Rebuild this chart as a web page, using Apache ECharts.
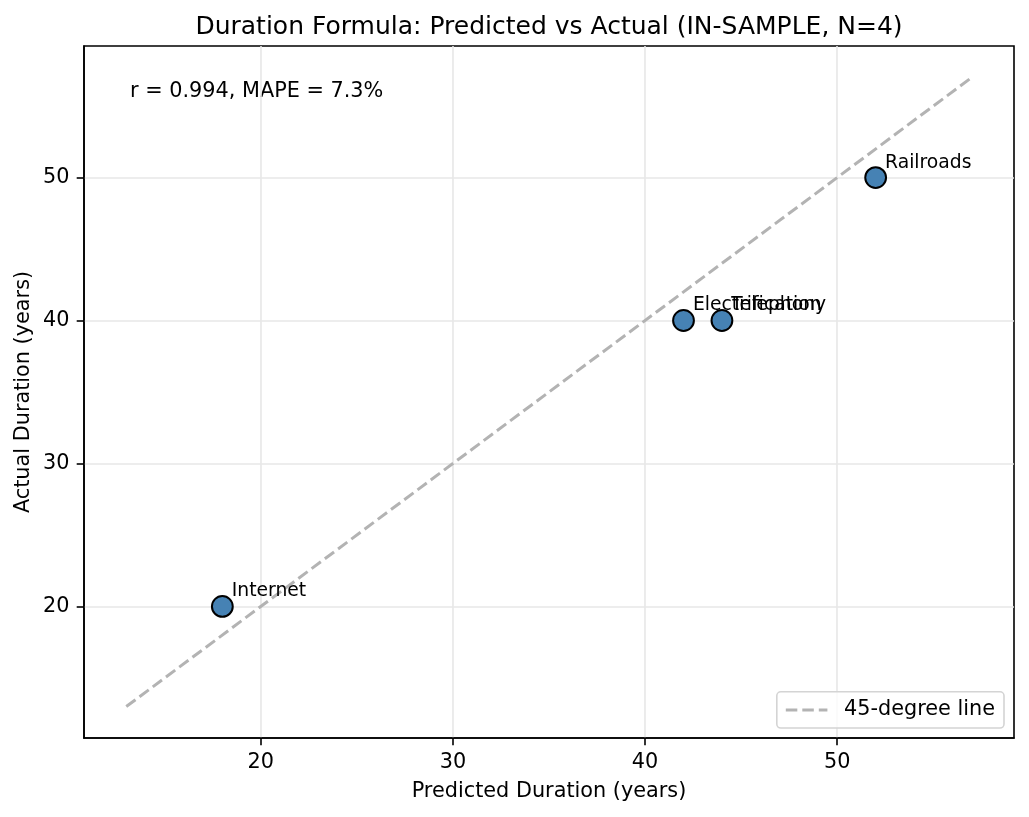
<!DOCTYPE html>
<html><head><meta charset="utf-8">
<script src="https://cdn.jsdelivr.net/npm/echarts@6/dist/echarts.min.js"></script>
<style>html,body{margin:0;padding:0;background:#fff}#c{width:1029px;height:817px}</style>
</head><body><div id="c"></div>
<script>
const names = ['Internet', 'Electrification', 'Telephony', 'Railroads'];
const predicted = [18, 42, 44, 52];
const actual = [20, 40, 40, 50];
const refLine = [13, 57];
const xTicks = [20, 30, 40, 50];
const yTicks = [20, 30, 40, 50];
const titleText = 'Duration Formula: Predicted vs Actual (IN-SAMPLE, N=4)';
const statsText = 'r = 0.994, MAPE = 7.3%';
const lineName = '45-degree line';

const FONT = 'DejaVu Sans';
const chart = echarts.init(document.getElementById('c'), null, {renderer: 'canvas'});

function axisCommon(ticks, name) {
  return {
    type: 'value', min: 10.8, max: 59.2,
    name: name, nameLocation: 'middle', nameMoveOverlap: false,
    nameTextStyle: {fontFamily: FONT, fontSize: 20.8, color: '#000'},
    axisLine: {show: true, onZero: false, lineStyle: {color: '#000', width: 1.6}},
    axisTick: {show: true, length: 7.3, inside: false, customValues: ticks, lineStyle: {color: '#000', width: 1.6}},
    axisLabel: {show: true, margin: 14.6, customValues: ticks, fontFamily: FONT, fontSize: 20.8, color: '#000'},
    splitLine: {show: true, lineStyle: {color: '#e7e7e7', width: 1.6}}
  };
}

const xAxis = axisCommon(xTicks, 'Predicted Duration (years)');
xAxis.nameGap = 43.5;
const yAxis = axisCommon(yTicks, 'Actual Duration (years)');
yAxis.nameGap = 50;

// dashed legend handle: dash 11.5, gap 5 over 41.6 width
const dashIcon = 'path://M0,0H11.5V3H0Z M16.5,0H28V3H16.5Z M33,0H41.6V3H33Z';

chart.setOption({
  animation: false,
  backgroundColor: '#fff',
  title: {
    text: titleText, left: 549, top: 15, padding: 0, textAlign: 'center',
    textStyle: {fontFamily: FONT, fontSize: 25, fontWeight: 'normal', color: '#000'}
  },
  grid: {left: 84, right: 15, top: 46, bottom: 79, show: true, borderColor: '#000', borderWidth: 1.6, backgroundColor: 'transparent'},
  xAxis: xAxis,
  yAxis: yAxis,
  legend: {
    data: [{name: lineName, icon: dashIcon}], right: 25, bottom: 89,
    orient: 'vertical',
    itemWidth: 41.6, itemHeight: 3,
    padding: [7.6, 9, 7.6, 9],
    backgroundColor: 'rgba(255,255,255,0.8)',
    borderColor: '#d4d4d4', borderWidth: 1.6, borderRadius: 4,
    itemStyle: {color: '#b3b3b3', borderWidth: 0},
    lineStyle: {width: 0},
    textStyle: {fontFamily: FONT, fontSize: 20.8, color: '#000', padding: [0, 0, 0, 11.6]}
  },
  graphic: [{
    type: 'text', left: 130, top: 81,
    style: {text: statsText, font: '20.8px "DejaVu Sans"', fill: '#000'}
  }],
  series: [
    {
      name: lineName, type: 'line', symbol: 'none', z: 2,
      data: refLine.map(v => [v, v]),
      lineStyle: {color: '#b3b3b3', width: 3, type: [11.5, 5]},
      itemStyle: {color: '#b3b3b3'}
    },
    {
      name: 'points', type: 'scatter', z: 3,
      symbol: 'circle', symbolSize: 20.8,
      data: predicted.map((x, i) => ({value: [x, actual[i]], name: names[i]})),
      itemStyle: {color: '#4682b4', borderColor: '#000', borderWidth: 2, opacity: 1},
      label: {
        show: true, formatter: '{b}', position: [20.8, -3.5],
        align: 'left', verticalAlign: 'middle',
        fontFamily: FONT, fontSize: 18.75, color: '#000'
      },
      emphasis: {disabled: true}
    }
  ]
});
</script>
</body></html>
